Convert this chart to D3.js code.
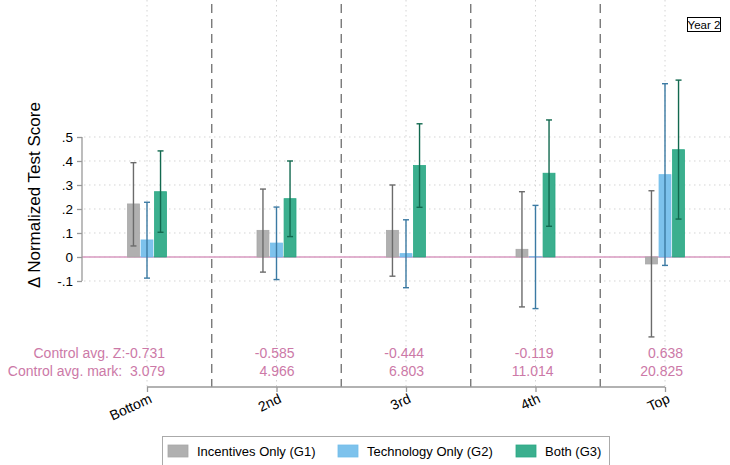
<!DOCTYPE html>
<html>
<head>
<meta charset="utf-8">
<script src="https://cdn.jsdelivr.net/npm/d3@7"></script>
<style>
  html, body { margin: 0; padding: 0; background: #fff; }
  svg { display: block; font-family: "Liberation Sans", Arial, Helvetica, sans-serif; }
</style>
</head>
<body>
<svg id="chart" width="730" height="465"></svg>
<script>
// Quintile groups and treatment arms
const categories = ["Bottom", "2nd", "3rd", "4th", "Top"];
const seriesNames = ["Incentives Only (G1)", "Technology Only (G2)", "Both (G3)"];

// Point estimates per arm (one value per quintile)
const incentives = [0.221, 0.111, 0.111, 0.032, -0.029];
const technology = [0.071, 0.058, 0.014, 0.001, 0.343];
const both       = [0.272, 0.243, 0.381, 0.349, 0.447];

// 95% confidence bounds per arm
const incentivesLo = [0.046, -0.063, -0.080, -0.208, -0.333];
const incentivesHi = [0.393, 0.283, 0.300, 0.272, 0.276];
const technologyLo = [-0.088, -0.094, -0.128, -0.215, -0.035];
const technologyHi = [0.228, 0.208, 0.155, 0.215, 0.722];
const bothLo       = [0.103, 0.085, 0.207, 0.128, 0.158];
const bothHi       = [0.442, 0.400, 0.555, 0.571, 0.737];

// Control-group averages shown under each quintile
const controlZ    = ["-0.731", "-0.585", "-0.444", "-0.119", "0.638"];
const controlMark = ["3.079", "4.966", "6.803", "11.014", "20.825"];

const yTicks = [0.5, 0.4, 0.3, 0.2, 0.1, 0, -0.1];
const yTickLabels = [".5", ".4", ".3", ".2", ".1", "0", "-.1"];

const panelLabel = "Year 2";
const yTitle = "\u0394 Normalized Test Score";

const series = [
  { name: seriesNames[0], est: incentives, lo: incentivesLo, hi: incentivesHi, fill: "#a9a9a9", ci: "#6b6b6b" },
  { name: seriesNames[1], est: technology, lo: technologyLo, hi: technologyHi, fill: "#72bdea", ci: "#3b7aa3" },
  { name: seriesNames[2], est: both,       lo: bothLo,       hi: bothHi,       fill: "#2aa884", ci: "#12694f" }
];

const svg = d3.select("#chart");
const plotLeft = 82, plotRight = 730, plotTop = 0, plotBottom = 387;

const y = d3.scaleLinear().domain([-0.5417, 1.0708]).range([plotBottom, plotTop]);
const x = d3.scalePoint().domain(categories).range([147, 665]);
const step = x.step();
const xs = d3.scaleBand().domain(seriesNames).range([-19.5, 19.5]).paddingInner(0.12);

// Horizontal dotted grid
svg.append("g").selectAll("line").data(yTicks).join("line")
  .attr("x1", plotLeft + 2).attr("x2", plotRight)
  .attr("y1", d => y(d)).attr("y2", d => y(d))
  .attr("stroke", "#d4d4d4").attr("stroke-width", 1).attr("stroke-dasharray", "1.5,3.5");

// Vertical dotted grid at category positions
svg.append("g").selectAll("line").data(categories).join("line")
  .attr("x1", d => x(d)).attr("x2", d => x(d))
  .attr("y1", plotTop).attr("y2", plotBottom)
  .attr("stroke", "#d4d4d4").attr("stroke-width", 1).attr("stroke-dasharray", "1.5,3.5");

// Dashed separators between quintiles
svg.append("g").selectAll("line").data(categories.slice(0, -1)).join("line")
  .attr("x1", d => x(d) + step / 2).attr("x2", d => x(d) + step / 2)
  .attr("y1", plotTop + 4).attr("y2", plotBottom)
  .attr("stroke", "#6e6e6e").attr("stroke-width", 1.3).attr("stroke-dasharray", "9,6");

// Zero reference line
svg.append("line")
  .attr("x1", plotLeft).attr("x2", plotRight)
  .attr("y1", y(0)).attr("y2", y(0))
  .attr("stroke", "#d99ac0").attr("stroke-width", 1.3);

// Bars
series.forEach(s => {
  const g = svg.append("g");
  g.selectAll("rect").data(categories).join("rect")
    .attr("x", (c) => x(c) + xs(s.name))
    .attr("width", xs.bandwidth())
    .attr("y", (c, i) => Math.min(y(s.est[i]), y(0)))
    .attr("height", (c, i) => Math.abs(y(s.est[i]) - y(0)))
    .attr("fill", s.fill).attr("fill-opacity", 0.92)
    .attr("stroke", s.fill).attr("stroke-width", 0.8);
});

// Confidence intervals
series.forEach(s => {
  const g = svg.append("g").attr("stroke", s.ci).attr("stroke-width", 1.4);
  categories.forEach((c, i) => {
    const cx = x(c) + xs(s.name) + xs.bandwidth() / 2;
    g.append("line").attr("x1", cx).attr("x2", cx).attr("y1", y(s.lo[i])).attr("y2", y(s.hi[i]));
    g.append("line").attr("x1", cx - 3).attr("x2", cx + 3).attr("y1", y(s.lo[i])).attr("y2", y(s.lo[i]));
    g.append("line").attr("x1", cx - 3).attr("x2", cx + 3).attr("y1", y(s.hi[i])).attr("y2", y(s.hi[i]));
  });
});

// Y axis (line spans tick range only)
const yAxis = d3.axisLeft(y).tickValues(yTicks)
  .tickFormat((d, i) => yTickLabels[i]).tickSize(5).tickPadding(4);
const gy = svg.append("g").attr("transform", `translate(${plotLeft},0)`).call(yAxis);
gy.select(".domain").remove();
gy.append("line").attr("x1", 0).attr("x2", 0)
  .attr("y1", y(yTicks[0])).attr("y2", y(yTicks[yTicks.length - 1]))
  .attr("stroke", "#999").attr("stroke-width", 1.3);
gy.selectAll(".tick line").attr("stroke", "#999").attr("stroke-width", 1.3);
gy.selectAll(".tick text").attr("fill", "#000").style("font-size", "13.5px")
  .style("font-family", "'Liberation Sans', Arial, sans-serif");

// X axis
const xAxis = d3.axisBottom(x).tickSize(5).tickPadding(4);
const gx = svg.append("g").attr("transform", `translate(0,${plotBottom})`).call(xAxis);
gx.select(".domain").attr("d", `M${x(categories[0])},0H${x(categories[categories.length - 1])}`)
  .attr("stroke", "#999").attr("stroke-width", 1.3);
gx.selectAll(".tick line").attr("stroke", "#999").attr("stroke-width", 1.3);
gx.selectAll(".tick text")
  .attr("fill", "#000").style("font-size", "14px")
  .style("font-family", "'Liberation Sans', Arial, sans-serif")
  .attr("text-anchor", "end")
  .attr("transform", "translate(1,6) rotate(-25)")
  .attr("dy", "0.71em").attr("y", 0).attr("x", 0);

// Y title
svg.append("text")
  .attr("transform", `translate(34,${195}) rotate(-90)`)
  .attr("text-anchor", "middle").attr("dominant-baseline", "central")
  .style("font-size", "17px").attr("fill", "#000").text(yTitle);

// Control-group annotations
const annoColor = "#cc79a7";
const ann = svg.append("g").style("font-size", "14px")
  .attr("fill", annoColor).attr("text-anchor", "end");
categories.forEach((c, i) => {
  const prefix1 = i === 0 ? "Control avg. Z:" : "";
  const prefix2 = i === 0 ? "Control avg. mark:\u00a0\u00a0" : "";
  ann.append("text").attr("x", x(c) + 18).attr("y", 358).text(prefix1 + controlZ[i]);
  ann.append("text").attr("x", x(c) + 18).attr("y", 375.5).text(prefix2 + controlMark[i]);
});

// Panel label
const pl = svg.append("g");
pl.append("rect").attr("x", 687.5).attr("y", 17.5).attr("width", 33).attr("height", 14)
  .attr("fill", "#fff").attr("stroke", "#000").attr("stroke-width", 1);
pl.append("text").attr("x", 704).attr("y", 28.5).attr("text-anchor", "middle")
  .style("font-size", "11.5px").attr("fill", "#000").text(panelLabel);

// Legend
const lg = svg.append("g");
lg.append("rect").attr("x", 162.5).attr("y", 436.5).attr("width", 447).attr("height", 40)
  .attr("fill", "#fff").attr("stroke", "#aaa").attr("stroke-width", 1);
const legendX = [168, 338, 516];
series.forEach((s, i) => {
  lg.append("rect").attr("x", legendX[i]).attr("y", 445).attr("width", 20).attr("height", 12)
    .attr("fill", s.fill).attr("fill-opacity", 0.92).attr("stroke", s.fill).attr("stroke-width", 0.8);
  lg.append("text").attr("x", legendX[i] + 29).attr("y", 456).style("font-size", "13px")
    .attr("fill", "#000").text(s.name);
});
</script>
</body>
</html>
